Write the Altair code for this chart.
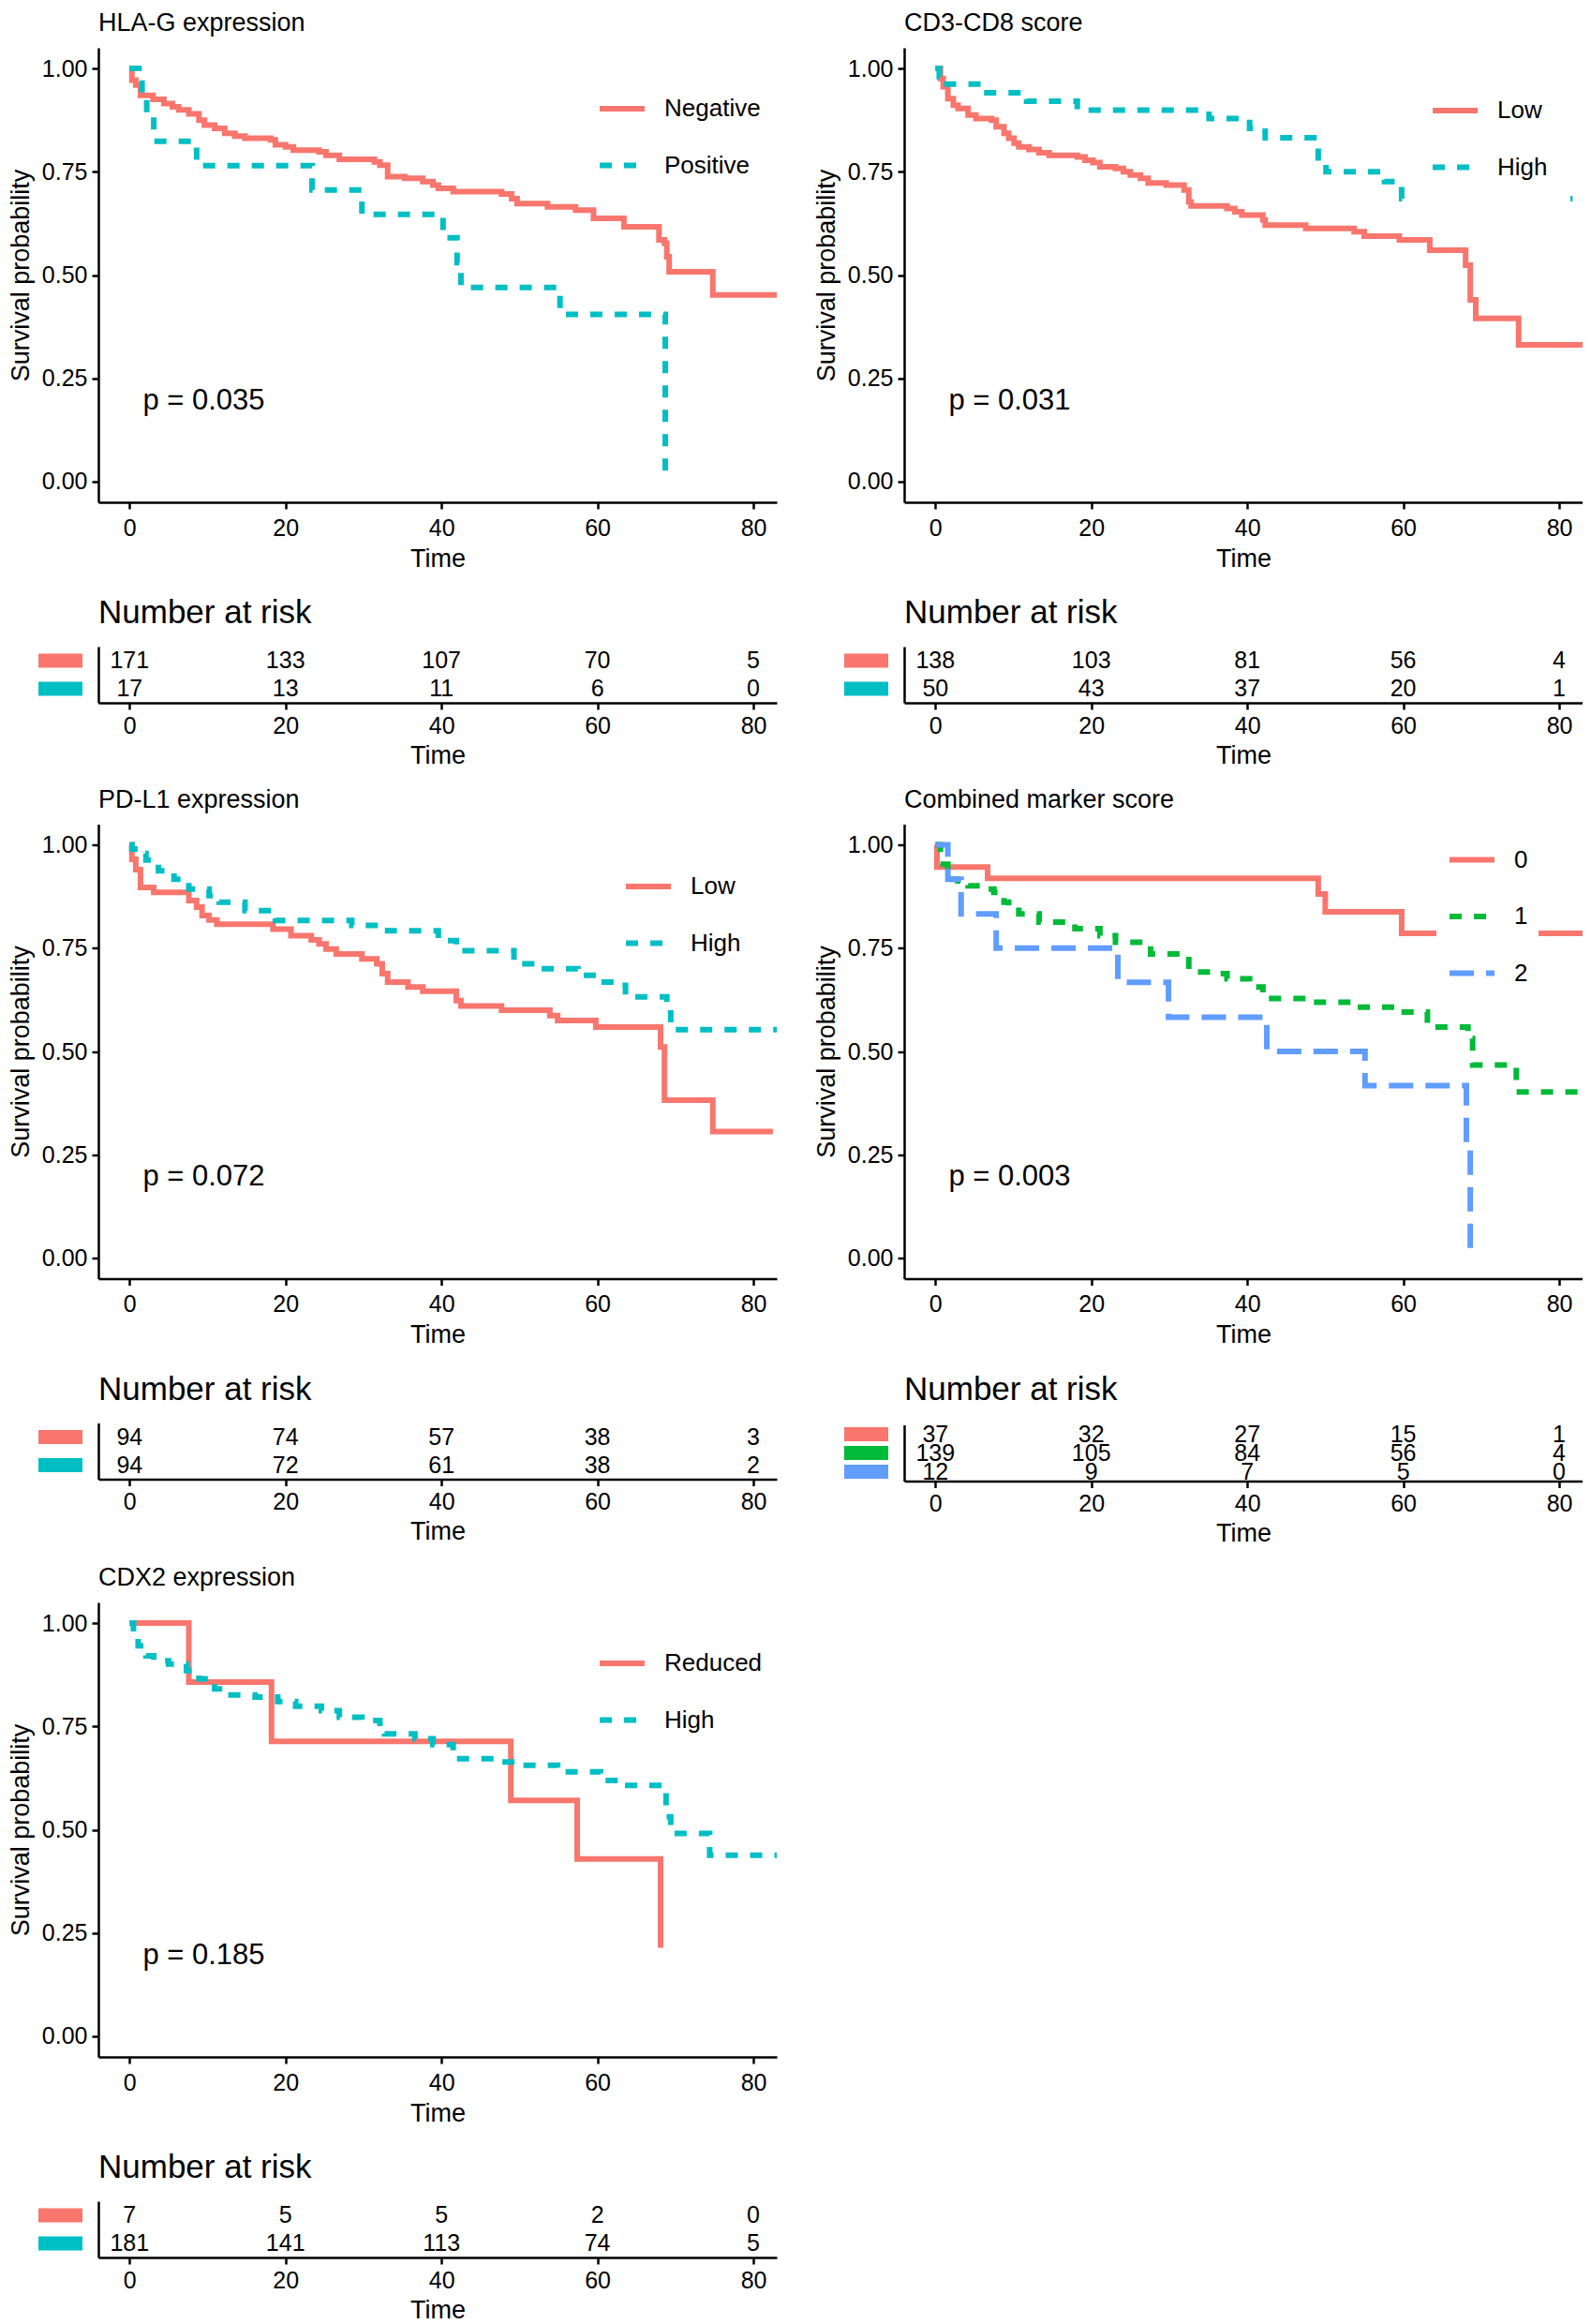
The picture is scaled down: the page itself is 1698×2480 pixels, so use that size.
import altair as alt
import pandas as pd

FONT = "Liberation Sans"
RED, TEAL, GREEN, BLUE = "#F8766D", "#00BFC4", "#00BA38", "#619CFF"
SOLID, DASH, LONGDASH = [1, 0], [13, 13], [26, 13]

X_TICKS = [0, 20, 40, 60, 80]
Y_TICKS = [0, 0.25, 0.5, 0.75, 1.0]
RISK_TIMES = [0, 20, 40, 60, 80]

# ---------------- HLA-G expression ----------------
HLAG_GROUPS = ["Negative", "Positive"]
HLAG_NEG = [(0, 1.0), (0.3, 0.972), (0.8, 0.96), (1.4, 0.935), (3.0, 0.925), (4.4, 0.915),
            (5.5, 0.907), (6.3, 0.9), (7.6, 0.89), (8.9, 0.875), (9.6, 0.863), (10.9, 0.855),
            (12.2, 0.843), (13.5, 0.836), (14.8, 0.831), (18.1, 0.827), (18.7, 0.815), (20.0, 0.81),
            (21.0, 0.802), (24.3, 0.798), (25.2, 0.79), (26.9, 0.78), (31.4, 0.774), (32.1, 0.766),
            (33.1, 0.738), (35.3, 0.734), (37.6, 0.726), (38.9, 0.718), (39.6, 0.71), (41.5, 0.702),
            (47.7, 0.696), (49.0, 0.685), (49.7, 0.673), (53.6, 0.665), (57.2, 0.657), (59.5, 0.637),
            (63.4, 0.617), (67.9, 0.585), (68.6, 0.577), (68.9, 0.544), (69.2, 0.508), (74.8, 0.452),
            (83.0, 0.452)]
HLAG_POS = [(0, 1.0), (1.6, 0.941), (2.2, 0.882), (3.1, 0.824), (8.6, 0.765), (23.4, 0.706),
            (29.8, 0.647), (40.2, 0.59), (42.0, 0.53), (42.5, 0.47), (55.2, 0.405), (68.7, 0.0)]
HLAG_RISK = [[171, 133, 107, 70, 5], [17, 13, 11, 6, 0]]
HLAG_P = "p = 0.035"

# ---------------- CD3-CD8 score ----------------
CD3_GROUPS = ["Low", "High"]
CD3_LOW = [(0, 1.0), (0.65, 0.976), (1.0, 0.956), (1.6, 0.927), (2.3, 0.911), (2.9, 0.903),
           (4.2, 0.887), (5.2, 0.879), (7.2, 0.875), (7.8, 0.859), (8.8, 0.843), (9.4, 0.831),
           (10.1, 0.819), (10.7, 0.81), (12.0, 0.804), (13.3, 0.796), (14.6, 0.79), (18.2, 0.786),
           (19.2, 0.778), (20.2, 0.772), (21.1, 0.762), (23.1, 0.758), (24.1, 0.75), (25.0, 0.742),
           (26.3, 0.734), (27.3, 0.723), (29.6, 0.718), (31.9, 0.706), (32.5, 0.677), (32.8, 0.667),
           (37.4, 0.661), (38.4, 0.653), (39.3, 0.645), (42.0, 0.633), (42.3, 0.621), (47.5, 0.613),
           (53.7, 0.605), (55.0, 0.594), (59.5, 0.585), (63.4, 0.56), (68.0, 0.524), (68.6, 0.44),
           (69.3, 0.395), (74.8, 0.331), (83.0, 0.331)]
CD3_HIGH = [(0, 1.0), (0.5, 0.98), (0.8, 0.962), (6.2, 0.941), (11.7, 0.921), (18.2, 0.899),
            (35.1, 0.879), (40.3, 0.855), (42.3, 0.832), (49.1, 0.774), (50.1, 0.75), (57.6, 0.726),
            (59.8, 0.685), (83.0, 0.685)]
CD3_RISK = [[138, 103, 81, 56, 4], [50, 43, 37, 20, 1]]
CD3_P = "p = 0.031"

# ---------------- PD-L1 expression ----------------
PDL1_GROUPS = ["Low", "High"]
PDL1_LOW = [(0, 1.0), (0.3, 0.965), (0.8, 0.94), (1.4, 0.897), (3.1, 0.885), (7.6, 0.865),
            (8.6, 0.849), (9.3, 0.829), (10.2, 0.818), (11.2, 0.808), (18.4, 0.796), (20.7, 0.78),
            (23.3, 0.77), (24.3, 0.76), (25.2, 0.748), (26.5, 0.736), (29.8, 0.724), (31.7, 0.712),
            (32.4, 0.688), (33.1, 0.668), (35.7, 0.656), (37.6, 0.646), (41.9, 0.623), (42.5, 0.61),
            (47.7, 0.6), (53.9, 0.587), (54.9, 0.575), (59.8, 0.559), (68.1, 0.511), (68.6, 0.382),
            (74.8, 0.306), (82.5, 0.306)]
PDL1_HIGH = [(0, 1.0), (0.3, 0.99), (1.4, 0.979), (2.1, 0.963), (3.7, 0.937), (5.7, 0.917),
             (7.6, 0.893), (10.2, 0.877), (11.5, 0.861), (14.8, 0.841), (18.7, 0.817), (28.5, 0.805),
             (33.1, 0.792), (39.6, 0.768), (41.9, 0.744), (49.3, 0.712), (52.0, 0.7), (57.5, 0.684),
             (60.1, 0.668), (63.0, 0.66), (63.6, 0.632), (68.9, 0.607), (69.4, 0.553), (83.0, 0.553)]
PDL1_RISK = [[94, 74, 57, 38, 3], [94, 72, 61, 38, 2]]
PDL1_P = "p = 0.072"

# ---------------- Combined marker score ----------------
COMB_GROUPS = ["0", "1", "2"]
COMB_0 = [(0, 1.0), (0.2, 0.946), (6.7, 0.919), (49.1, 0.881), (50.0, 0.838), (59.8, 0.786),
          (83.0, 0.786)]
COMB_1 = [(0, 1.0), (0.65, 0.965), (1.0, 0.953), (1.6, 0.917), (2.9, 0.913), (4.2, 0.901),
          (5.9, 0.893), (7.5, 0.885), (8.8, 0.861), (9.4, 0.849), (10.7, 0.833), (13.3, 0.813),
          (17.9, 0.797), (21.1, 0.78), (23.1, 0.764), (27.6, 0.736), (31.5, 0.732), (32.5, 0.692),
          (35.4, 0.688), (37.4, 0.676), (40.3, 0.656), (42.0, 0.628), (47.8, 0.619), (53.7, 0.607),
          (58.9, 0.595), (63.1, 0.559), (68.3, 0.531), (68.9, 0.467), (74.5, 0.402), (83.0, 0.402)]
COMB_2 = [(0, 1.0), (1.6, 0.917), (3.3, 0.833), (7.8, 0.75), (23.4, 0.667), (29.9, 0.583),
          (42.5, 0.5), (55.1, 0.417), (68.1, 0.278), (68.6, 0.0)]
COMB_RISK = [[37, 32, 27, 15, 1], [139, 105, 84, 56, 4], [12, 9, 7, 5, 0]]
COMB_P = "p = 0.003"

# ---------------- CDX2 expression ----------------
CDX2_GROUPS = ["Reduced", "High"]
CDX2_RED = [(0, 1.0), (7.6, 0.857), (18.2, 0.714), (48.9, 0.571), (57.4, 0.429), (68.1, 0.214)]
CDX2_HIGH = [(0, 1.0), (0.5, 0.973), (1.1, 0.945), (2.1, 0.921), (3.1, 0.909), (5.0, 0.901),
             (7.3, 0.885), (8.9, 0.865), (10.9, 0.841), (12.2, 0.826), (16.1, 0.821), (19.0, 0.81),
             (21.3, 0.799), (24.6, 0.788), (26.9, 0.772), (29.8, 0.764), (32.1, 0.748), (32.7, 0.732),
             (36.6, 0.72), (38.9, 0.706), (41.5, 0.684), (41.9, 0.672), (47.1, 0.664), (49.7, 0.656),
             (54.9, 0.64), (60.4, 0.619), (63.4, 0.607), (68.6, 0.599), (68.8, 0.531), (69.4, 0.491),
             (74.4, 0.438), (83.0, 0.438)]
CDX2_RISK = [[7, 5, 5, 2, 0], [181, 141, 113, 74, 5]]
CDX2_P = "p = 0.185"

PVAL_POS = (1.7, 0.195)

# ---------------- layout ----------------
W = 724
H_KM = 485
H_RISK = 60
XDOM = [-4, 83]
YDOM = [-0.05, 1.05]


def panel(title, groups, colors, dashes, curves, risks, pval, lx, ly, lpad):
    rows = []
    for g, pts in zip(groups, curves):
        for t, s in pts:
            rows.append({"time": t, "surv": s, "group": g})
    df = pd.DataFrame(rows)

    leg = alt.Legend(title=None, orient="none", legendX=lx, legendY=ly, fillColor="white",
                     padding=lpad, symbolType="stroke", symbolSize=2304, symbolStrokeWidth=6,
                     labelFontSize=26, labelFont=FONT, labelColor="black", labelOffset=18,
                     rowPadding=20.5, labelLimit=400)
    xs = alt.Scale(domain=XDOM, nice=False, zero=False)
    ys = alt.Scale(domain=YDOM, nice=False, zero=False)

    lines = alt.Chart(df).mark_line(interpolate="step-after", strokeWidth=6, clip=True,
                                    strokeCap="butt").encode(
        x=alt.X("time:Q", scale=xs,
                axis=alt.Axis(values=X_TICKS, format="d", title="Time", labelPadding=8,
                              titlePadding=7)),
        y=alt.Y("surv:Q", scale=ys,
                axis=alt.Axis(values=Y_TICKS, format=".2f", title="Survival probability",
                              titlePadding=8)),
        color=alt.Color("group:N", scale=alt.Scale(domain=groups, range=colors), legend=leg,
                        sort=groups),
        strokeDash=alt.StrokeDash("group:N", scale=alt.Scale(domain=groups, range=dashes),
                                  legend=leg, sort=groups),
    )
    ptxt = alt.Chart(pd.DataFrame({"time": [PVAL_POS[0]], "surv": [PVAL_POS[1]], "label": [pval]})).mark_text(
        align="left", baseline="middle", fontSize=31, font=FONT, color="black").encode(
        x="time:Q", y="surv:Q", text="label:N")

    km = alt.layer(lines, ptxt).properties(
        width=W, height=H_KM,
        title=alt.TitleParams(title, anchor="start", frame="group", fontSize=27, font=FONT,
                              fontWeight="normal", color="black", offset=12))

    rrows = []
    for g, ns in zip(groups, risks):
        for t, n in zip(RISK_TIMES, ns):
            rrows.append({"time": t, "group": g, "n": n})
    rdf = pd.DataFrame(rrows)
    yband = alt.Scale(domain=groups, paddingInner=0, paddingOuter=0)
    raxis = alt.Axis(labels=False, ticks=False, title=None, domain=True)

    rtext = alt.Chart(rdf).mark_text(fontSize=25, font=FONT, color="black", baseline="middle").encode(
        x=alt.X("time:Q", scale=alt.Scale(domain=XDOM, nice=False, zero=False),
                axis=alt.Axis(values=X_TICKS, format="d", title="Time", labelPadding=5,
                              titlePadding=6)),
        y=alt.Y("group:N", scale=yband, axis=raxis, sort=groups),
        text="n:Q")
    keys = alt.Chart(pd.DataFrame({"group": groups})).mark_bar(height=15).encode(
        y=alt.Y("group:N", scale=yband, axis=raxis, sort=groups),
        x=alt.value(-64), x2=alt.value(-17),
        color=alt.Color("group:N", scale=alt.Scale(domain=groups, range=colors), legend=None))
    risk = alt.layer(keys, rtext).properties(
        width=W, height=H_RISK,
        title=alt.TitleParams("Number at risk", anchor="start", frame="group", fontSize=35,
                              font=FONT, fontWeight="normal", color="black", offset=18))

    return alt.vconcat(km, risk, spacing=28).resolve_scale(
        color="independent", strokeDash="independent")


p1 = panel("HLA-G expression", HLAG_GROUPS, [RED, TEAL], [SOLID, DASH], [HLAG_NEG, HLAG_POS],
           HLAG_RISK, HLAG_P, 516, 22, 16)
p2 = panel("CD3-CD8 score", CD3_GROUPS, [RED, TEAL], [SOLID, DASH], [CD3_LOW, CD3_HIGH],
           CD3_RISK, CD3_P, 537, 16, 24)
p3 = panel("PD-L1 expression", PDL1_GROUPS, [RED, TEAL], [SOLID, DASH], [PDL1_LOW, PDL1_HIGH],
           PDL1_RISK, PDL1_P, 544, 23.5, 16)
p4 = panel("Combined marker score", COMB_GROUPS, [RED, GREEN, BLUE], [SOLID, DASH, LONGDASH],
           [COMB_0, COMB_1, COMB_2], COMB_RISK, COMB_P, 568, 0, 11)
p5 = panel("CDX2 expression", CDX2_GROUPS, [RED, TEAL], [SOLID, DASH], [CDX2_RED, CDX2_HIGH],
           CDX2_RISK, CDX2_P, 516, 22, 16)

chart = alt.concat(p1, p2, p3, p4, p5, columns=2, spacing={"row": 20.5, "column": 38}).resolve_scale(
    color="independent", strokeDash="independent", x="independent", y="independent"
).properties(padding={"top": 3, "left": 0, "right": 0, "bottom": 0}, background="white").configure_view(
    stroke=None).configure_axis(
    labelFont=FONT, titleFont=FONT, labelFontSize=25, titleFontSize=27, titleFontWeight="normal",
    labelColor="black", titleColor="black", domainColor="black", domainWidth=2.5,
    tickColor="black", tickWidth=2.5, tickSize=7, labelPadding=5, grid=False)

chart.save("out.html", embed_options={"renderer": "svg", "actions": False})
